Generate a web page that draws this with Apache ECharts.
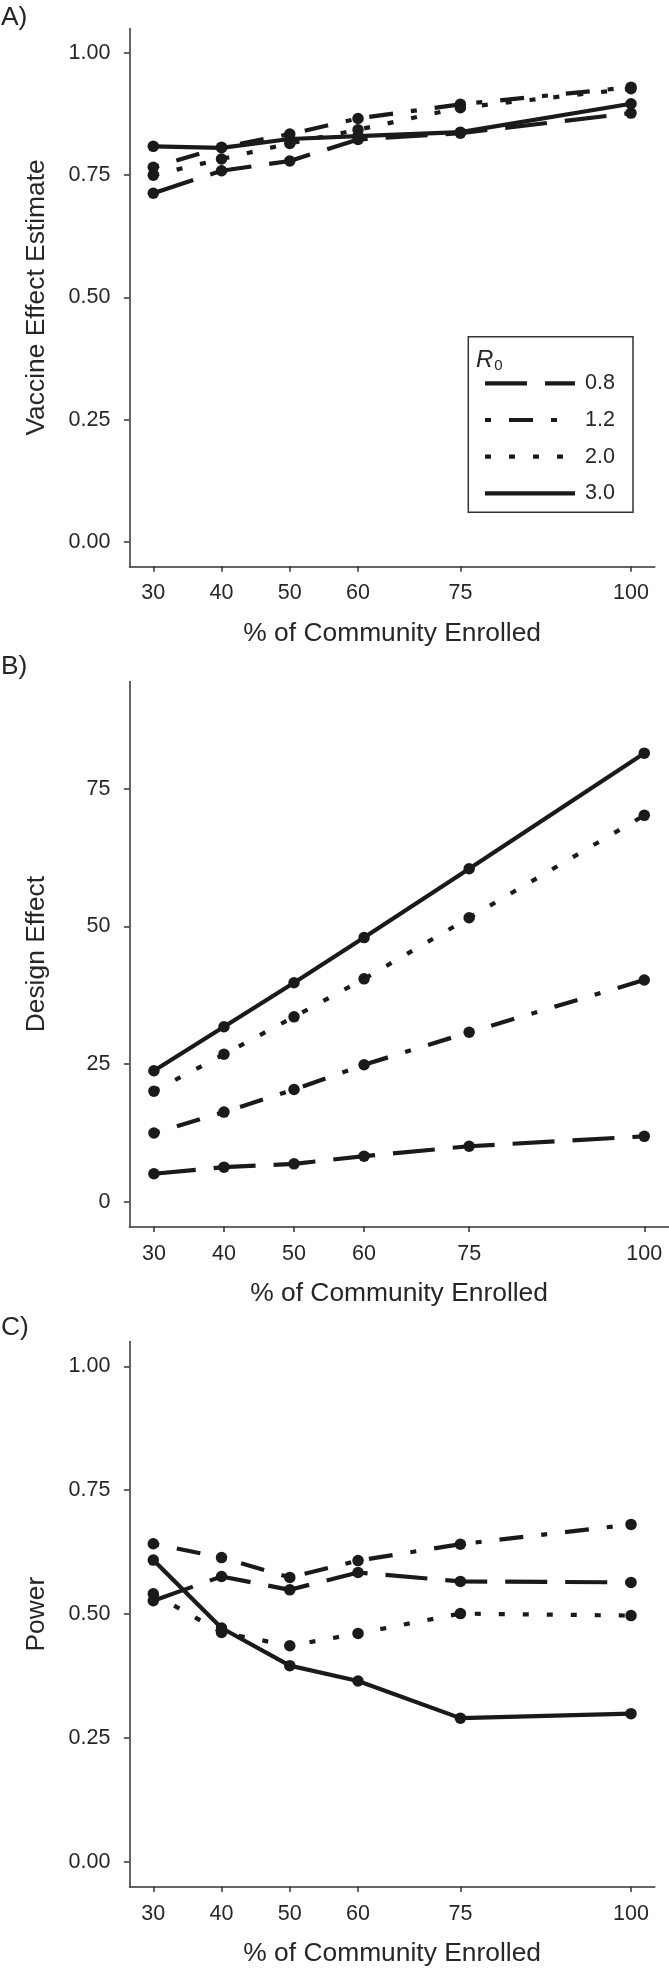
<!DOCTYPE html>
<html>
<head>
<meta charset="utf-8">
<script src="https://cdn.jsdelivr.net/npm/echarts@6/dist/echarts.min.js"></script>
<style>
  html, body { margin: 0; padding: 0; background: #fff; }
  #chart { width: 669px; height: 1970px; }
</style>
</head>
<body>
<div id="chart"></div>
<script>
// ---------- data ----------
const xValues = [30, 40, 50, 60, 75, 100];
const xTickLabels = [30, 40, 50, 60, 75, 100];
const r0Labels = ['0.8', '1.2', '2.0', '3.0'];

// Panel A: vaccine effect estimate
const veR08 = [0.713, 0.759, 0.779, 0.823, 0.836, 0.877];
const veR12 = [0.766, 0.807, 0.834, 0.866, 0.895, 0.930];
const veR20 = [0.750, 0.783, 0.815, 0.843, 0.888, 0.927];
const veR30 = [0.809, 0.806, 0.824, 0.830, 0.838, 0.896];

// Panel B: design effect
const deR08 = [5.1, 6.3, 6.9, 8.3, 10.1, 11.9];
const deR12 = [12.5, 16.3, 20.4, 24.9, 30.8, 40.3];
const deR20 = [20.1, 26.8, 33.6, 40.5, 51.6, 70.2];
const deR30 = [23.8, 31.8, 39.8, 48.0, 60.5, 81.5];

// Panel C: power
const pwR08 = [0.527, 0.576, 0.549, 0.584, 0.566, 0.564];
const pwR12 = [0.642, 0.614, 0.574, 0.608, 0.641, 0.681];
const pwR20 = [0.541, 0.463, 0.436, 0.461, 0.501, 0.497];
const pwR30 = [0.609, 0.472, 0.396, 0.365, 0.290, 0.299];

const yTicksUnit = [0, 0.25, 0.5, 0.75, 1];
const yTicksDE = [0, 25, 50, 75];

// ---------- styling ----------
const FONT = "'Liberation Sans', Arial, Helvetica, sans-serif";
const INK = '#1a1a1a';
const AXIS = '#333333';
const TXT = '#262626';
const dashPatterns = [[42, 18], [6, 18, 24, 18], [6, 18], 'solid'];
const LW = 4.2;

const panels = [
  { grid: { left: 129.4, top: 28.5, width: 525.5, height: 537.8 }, yName: 'Vaccine Effect Estimate',
    yMin: -0.05, yMax: 1.05, yTicks: yTicksUnit, fmt: v => v.toFixed(2), data: [veR08, veR12, veR20, veR30] },
  { grid: { left: 129.4, top: 681.6, width: 539.4, height: 545 }, yName: 'Design Effect',
    yMin: -4.5, yMax: 94.5, yTicks: yTicksDE, fmt: v => String(v), data: [deR08, deR12, deR20, deR30] },
  { grid: { left: 129.4, top: 1341.6, width: 525.5, height: 545 }, yName: 'Power',
    yMin: -0.05, yMax: 1.05, yTicks: yTicksUnit, fmt: v => v.toFixed(2), data: [pwR08, pwR12, pwR20, pwR30] }
];

const grids = [], xAxes = [], yAxes = [], series = [];
panels.forEach((p, pi) => {
  grids.push(Object.assign({ containLabel: false }, p.grid));
  xAxes.push({
    type: 'value', gridIndex: pi, min: 26.5, max: 103.5,
    name: '% of Community Enrolled', nameLocation: 'middle', nameGap: 54,
    nameTextStyle: { fontFamily: FONT, fontSize: 26.4, color: TXT },
    axisLine: { show: true, onZero: false, lineStyle: { color: AXIS, width: 1.5 } },
    axisTick: { show: true, length: 5.5, lineStyle: { color: AXIS, width: 1.5 }, customValues: xTickLabels },
    axisLabel: { show: true, margin: 16, fontFamily: FONT, fontSize: 21.5, color: TXT, customValues: xTickLabels },
    splitLine: { show: false }
  });
  yAxes.push({
    type: 'value', gridIndex: pi, min: p.yMin, max: p.yMax,
    name: p.yName, nameLocation: 'middle', nameGap: 80,
    nameTextStyle: { fontFamily: FONT, fontSize: 26.4, color: TXT },
    axisLine: { show: true, onZero: false, lineStyle: { color: AXIS, width: 1.5 } },
    axisTick: { show: true, length: 5.5, lineStyle: { color: AXIS, width: 1.5 }, customValues: p.yTicks },
    axisLabel: { show: true, margin: 19, fontFamily: FONT, fontSize: 21.5, color: TXT,
                 customValues: p.yTicks, formatter: p.fmt },
    splitLine: { show: false }
  });
  p.data.forEach((arr, si) => {
    series.push({
      type: 'line', name: r0Labels[si], xAxisIndex: pi, yAxisIndex: pi,
      data: xValues.map((x, i) => [x, arr[i]]),
      symbol: 'circle', symbolSize: 11.5, showSymbol: true,
      itemStyle: { color: INK },
      lineStyle: { color: INK, width: LW, type: dashPatterns[si], cap: 'butt', join: 'round' },
      emphasis: { disabled: true },
      z: 2 + si
    });
  });
});

// ---------- panel tags + legend (graphic) ----------
const graphics = [];
[['A)', 18], ['B)', 667], ['C)', 1328]].forEach(([t, y]) => {
  graphics.push({ type: 'text', style: { text: t, x: 1, y: y, fill: TXT, font: '26.4px ' + FONT, textVerticalAlign: 'middle' } });
});
const lgBox = { x: 468.3, y: 336.7, w: 164.7, h: 175.5 };
graphics.push({ type: 'rect', shape: { x: lgBox.x, y: lgBox.y, width: lgBox.w, height: lgBox.h },
  style: { fill: '#fff', stroke: AXIS, lineWidth: 1.5 }, z: 10 });
graphics.push({ type: 'text', z: 11, style: {
  text: '{r|R}{s|0}', x: 476, y: 360, textVerticalAlign: 'middle',
  rich: { r: { fontFamily: FONT, fontSize: 24, fontStyle: 'italic', fill: TXT, color: TXT },
          s: { fontFamily: FONT, fontSize: 15, fill: TXT, color: TXT, padding: [12, 0, 0, 1] } } } });
const lgRows = [383.3, 420, 456.7, 493.3];
r0Labels.forEach((lab, i) => {
  const dash = dashPatterns[i] === 'solid' ? null : dashPatterns[i];
  graphics.push({ type: 'line', z: 11, shape: { x1: 485, y1: lgRows[i], x2: 575, y2: lgRows[i] },
    style: { stroke: INK, lineWidth: LW, lineDash: dash, lineCap: 'butt' } });
  graphics.push({ type: 'text', z: 11, style: { text: lab, x: 585, y: lgRows[i], fill: TXT,
    font: '21.5px ' + FONT, textVerticalAlign: 'middle' } });
});

const chart = echarts.init(document.getElementById('chart'), null, { renderer: 'canvas' });
chart.setOption({
  animation: false,
  backgroundColor: '#ffffff',
  textStyle: { fontFamily: FONT },
  grid: grids, xAxis: xAxes, yAxis: yAxes, series: series,
  graphic: graphics,
  tooltip: { show: false }
});
</script>
</body>
</html>
